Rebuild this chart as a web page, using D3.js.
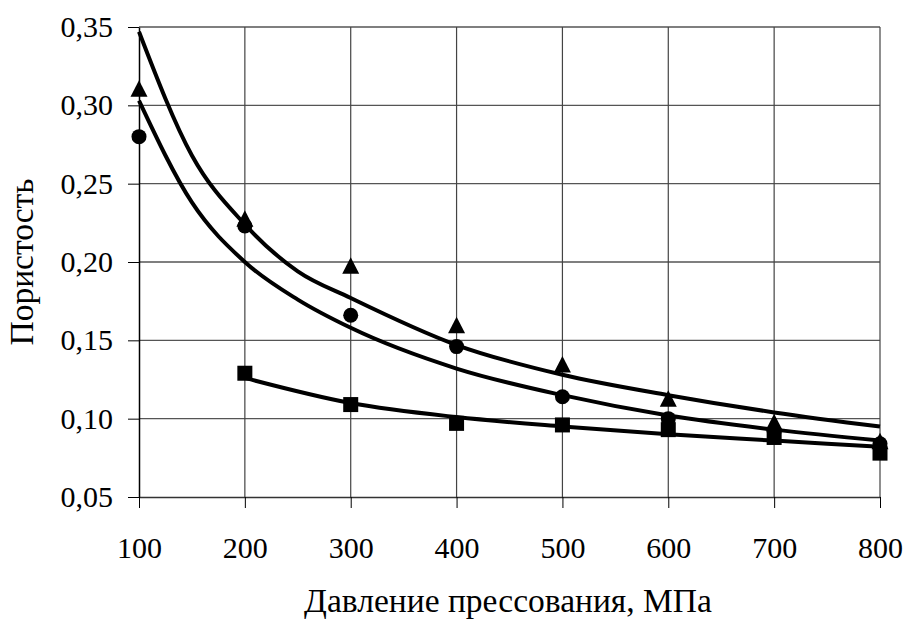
<!DOCTYPE html>
<html>
<head>
<meta charset="utf-8">
<script src="https://cdnjs.cloudflare.com/ajax/libs/d3/7.8.5/d3.min.js"></script>
<style>
  html, body { margin: 0; padding: 0; background: #fff; }
  svg { display: block; }
  .axis text { font-family: 'Liberation Serif', 'Times New Roman', serif; font-size: 30px; fill: #000; }
  .title { font-family: 'Liberation Serif', 'Times New Roman', serif; font-size: 33.5px; fill: #000; }
</style>
</head>
<body>
<div class="chart"></div>
<script>
// pressure, MPa
const pressures = [100, 200, 300, 400, 500, 600, 700, 800];
// measured porosity points
const triangles = [0.310, 0.227, 0.197, 0.159, 0.134, 0.112, 0.097, 0.085];
const circles = [0.280, 0.223, 0.166, 0.146, 0.114, 0.100, 0.092, 0.084];
const squarePressures = [200, 300, 400, 500, 600, 700, 800];
const squares = [0.129, 0.109, 0.097, 0.096, 0.093, 0.088, 0.078];

// trend curves
const trendPressures = [100, 150, 200, 250, 300, 400, 500, 600, 700, 800];
const trendUpper = [0.347, 0.268, 0.224, 0.194, 0.177, 0.147, 0.128, 0.115, 0.104, 0.095];
const trendLower = [0.303, 0.238, 0.200, 0.176, 0.158, 0.132, 0.115, 0.102, 0.093, 0.086];
const squareTrendPressures = [200, 300, 400, 500, 600, 700, 800];
const trendSquares = [0.126, 0.110, 0.101, 0.095, 0.090, 0.086, 0.082];

const xTicks = [100, 200, 300, 400, 500, 600, 700, 800];
const yTicks = [0.05, 0.10, 0.15, 0.20, 0.25, 0.30, 0.35];

function displayChart() {
  const w = 906;
  const h = 621;
  const margin = { top: 27, right: 26, bottom: 124, left: 139 };

  const xScale = d3.scaleLinear()
    .domain([100, 800])
    .range([margin.left, w - margin.right]);
  const yScale = d3.scaleLinear()
    .domain([0.05, 0.35])
    .range([h - margin.bottom, margin.top]);

  const svg = d3.select('.chart')
    .append('svg')
    .attr('width', w)
    .attr('height', h);

  const fmt = (d) => d3.format('.2f')(d).replace('.', ',');

  // grid
  svg.append('g')
    .selectAll('line')
    .data(yTicks.slice(1))
    .enter()
    .append('line')
    .attr('x1', margin.left)
    .attr('x2', w - margin.right)
    .attr('y1', (d) => yScale(d))
    .attr('y2', (d) => yScale(d))
    .attr('stroke', '#555')
    .attr('stroke-width', 1.3);

  svg.append('g')
    .selectAll('line')
    .data(xTicks.slice(1))
    .enter()
    .append('line')
    .attr('x1', (d) => xScale(d))
    .attr('x2', (d) => xScale(d))
    .attr('y1', margin.top)
    .attr('y2', h - margin.bottom)
    .attr('stroke', '#444')
    .attr('stroke-width', 1.2);

  // axes
  const xAxis = svg.append('g')
    .attr('class', 'axis')
    .attr('transform', `translate(0, ${h - margin.bottom})`)
    .call(d3.axisBottom(xScale).tickValues(xTicks).tickSize(11).tickSizeOuter(0).tickPadding(29));
  xAxis.select('.domain').attr('stroke', '#333').attr('stroke-width', 1.5);
  xAxis.selectAll('.tick line').attr('stroke', '#000');

  const yAxis = svg.append('g')
    .attr('class', 'axis')
    .attr('transform', `translate(${margin.left}, 0)`)
    .call(d3.axisLeft(yScale).tickValues(yTicks).tickFormat(fmt).tickSize(11).tickSizeOuter(0).tickPadding(15));
  yAxis.select('.domain').attr('stroke', '#000').attr('stroke-width', 1.5);
  yAxis.selectAll('.tick line').attr('stroke', '#000');
  xAxis.selectAll('text').attr('font-family', null).attr('font-size', null);
  yAxis.selectAll('text').attr('font-family', null).attr('font-size', null);

  // trend lines
  const line = d3.line()
    .x((d) => xScale(d[0]))
    .y((d) => yScale(d[1]))
    .curve(d3.curveMonotoneX);

  const trends = [
    d3.zip(trendPressures, trendUpper),
    d3.zip(trendPressures, trendLower),
    d3.zip(squareTrendPressures, trendSquares)
  ];
  svg.append('g')
    .selectAll('path')
    .data(trends)
    .enter()
    .append('path')
    .attr('d', line)
    .attr('fill', 'none')
    .attr('stroke', '#000')
    .attr('stroke-width', 4);

  // markers
  svg.append('g')
    .selectAll('path')
    .data(d3.zip(pressures, circles))
    .enter()
    .append('path')
    .attr('transform', (d) => `translate(${xScale(d[0])}, ${yScale(d[1])})`)
    .attr('d', d3.symbol(d3.symbolCircle, 177));

  svg.append('g')
    .selectAll('path')
    .data(d3.zip(pressures, triangles))
    .enter()
    .append('path')
    .attr('transform', (d) => `translate(${xScale(d[0])}, ${yScale(d[1])})`)
    .attr('d', 'M0,-9.5L8.5,7L-8.5,7Z');

  svg.append('g')
    .selectAll('rect')
    .data(d3.zip(squarePressures, squares))
    .enter()
    .append('rect')
    .attr('x', (d) => xScale(d[0]) - 7.5)
    .attr('y', (d) => yScale(d[1]) - 7.5)
    .attr('width', 15)
    .attr('height', 15);

  // titles
  svg.append('text')
    .attr('class', 'title')
    .attr('x', 508)
    .attr('y', 612)
    .attr('text-anchor', 'middle')
    .text('Давление прессования, МПа');

  svg.append('text')
    .attr('class', 'title')
    .attr('transform', `translate(33, ${(margin.top + h - margin.bottom) / 2}) rotate(-90)`)
    .attr('text-anchor', 'middle')
    .text('Пористость');
}

displayChart();
</script>
</body>
</html>
